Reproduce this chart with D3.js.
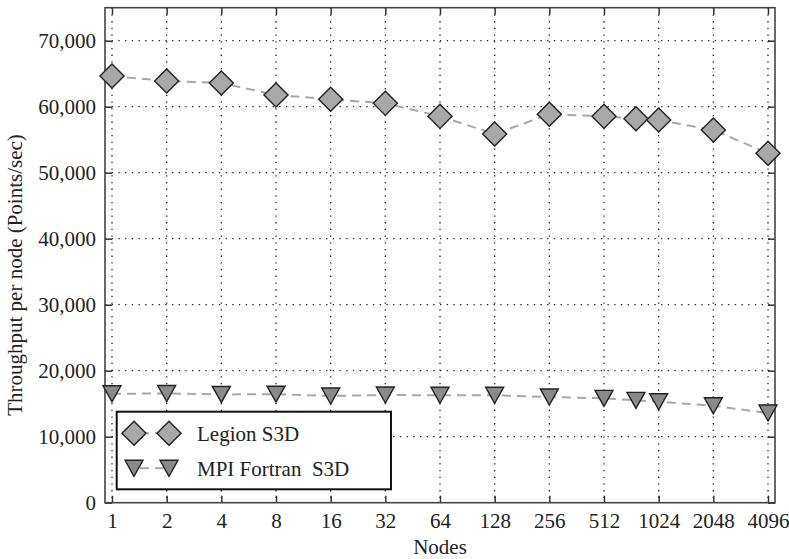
<!DOCTYPE html>
<html>
<head>
<meta charset="utf-8">
<script src="https://cdn.jsdelivr.net/npm/d3@7"></script>
<style>
  body { margin: 0; background: #fff; }
  text { font-family: "Liberation Serif", "DejaVu Serif", serif; fill: #222; }
</style>
</head>
<body>
<script>
const nodes = [1, 2, 4, 8, 16, 32, 64, 128, 256, 512, 768, 1024, 2048, 4096];
const legionS3D = [64650, 63890, 63590, 61770, 61120, 60510, 58540, 55860, 58850, 58540, 58180, 57980, 56470, 52940];
const mpiFortranS3D = [16500, 16550, 16400, 16440, 16170, 16320, 16270, 16270, 16010, 15810, 15510, 15300, 14680, 13590];
const xTicks = [1, 2, 4, 8, 16, 32, 64, 128, 256, 512, 1024, 2048, 4096];
const yTicks = [0, 10000, 20000, 30000, 40000, 50000, 60000, 70000];

const width = 789;
const height = 559;
const plot = { left: 105, right: 775, top: 7.7, bottom: 502.7 };
const fontSize = '21px';

const x = d3.scaleLog().base(2)
  .domain([Math.pow(2, -0.128), Math.pow(2, 12.128)])
  .range([plot.left, plot.right]);
const y = d3.scaleLinear()
  .domain([0, 75000])
  .range([plot.bottom, plot.top]);

const svg = d3.select('body').append('svg')
  .attr('width', width)
  .attr('height', height);

// grid
const grid = svg.append('g').attr('id', 'grid');
grid.selectAll('line.gx')
  .data(xTicks)
  .join('line')
  .attr('class', 'gx')
  .attr('x1', d => x(d)).attr('x2', d => x(d))
  .attr('y1', plot.top).attr('y2', plot.bottom)
  .attr('stroke', '#222')
  .attr('stroke-width', 1.3)
  .attr('stroke-dasharray', '1.3,5.4');
grid.selectAll('line.gy')
  .data(yTicks.filter(d => d > 0))
  .join('line')
  .attr('class', 'gy')
  .attr('x1', plot.left).attr('x2', plot.right)
  .attr('y1', d => y(d)).attr('y2', d => y(d))
  .attr('stroke', '#222')
  .attr('stroke-width', 1.3)
  .attr('stroke-dasharray', '1.3,5.4');

// axes
const xAxis = svg.append('g')
  .attr('transform', `translate(0,${plot.bottom})`)
  .call(d3.axisBottom(x).tickValues(xTicks).tickFormat(d3.format('d')).tickSizeInner(-7).tickSizeOuter(0).tickPadding(10));
const xAxisTop = svg.append('g')
  .attr('transform', `translate(0,${plot.top})`)
  .call(d3.axisTop(x).tickValues(xTicks).tickFormat('').tickSizeInner(-7).tickSizeOuter(0));
const yAxis = svg.append('g')
  .attr('transform', `translate(${plot.left},0)`)
  .call(d3.axisLeft(y).tickValues(yTicks).tickFormat(d3.format(',')).tickSizeInner(-7).tickSizeOuter(0).tickPadding(9));
const yAxisRight = svg.append('g')
  .attr('transform', `translate(${plot.right},0)`)
  .call(d3.axisRight(y).tickValues(yTicks).tickFormat('').tickSizeInner(-7).tickSizeOuter(0));

[xAxis, xAxisTop, yAxis, yAxisRight].forEach(g => {
  g.attr('font-size', null).attr('font-family', null);
  g.select('.domain').remove();
  g.selectAll('.tick line').attr('stroke', '#333').attr('stroke-width', 1.5);
  g.selectAll('.tick text')
    .style('font-size', fontSize)
    .attr('fill', '#222');
});

// frame
svg.append('rect')
  .attr('x', plot.left).attr('y', plot.top)
  .attr('width', plot.right - plot.left)
  .attr('height', plot.bottom - plot.top)
  .attr('fill', 'none')
  .attr('stroke', '#444')
  .attr('stroke-width', 1.6);

const diamond = d3.symbol().type(d3.symbolSquare).size(290);
const triangle = 'M0,8 L-9,-8 L9,-8 Z';

const series = [
  { name: 'Legion S3D', values: legionS3D, fill: '#a8a8a8', marker: 'diamond' },
  { name: 'MPI Fortran  S3D', values: mpiFortranS3D, fill: '#8a8a8a', marker: 'triangle' }
];

const line = d3.line()
  .x(d => x(d[0]))
  .y(d => y(d[1]));

const drawMarker = (sel, s) => {
  if (s.marker === 'diamond') {
    sel.append('path')
      .attr('d', diamond)
      .attr('transform', 'rotate(45)')
      .attr('fill', s.fill)
      .attr('stroke', '#222')
      .attr('stroke-width', 1.4);
  } else {
    sel.append('path')
      .attr('d', triangle)
      .attr('fill', s.fill)
      .attr('stroke', '#222')
      .attr('stroke-width', 1.4);
  }
};

series.forEach(s => {
  const pts = nodes.map((n, i) => [n, s.values[i]]);
  svg.append('path')
    .datum(pts)
    .attr('d', line)
    .attr('fill', 'none')
    .attr('stroke', '#a8a8a8')
    .attr('stroke-width', 2)
    .attr('stroke-dasharray', '9,6');
  svg.append('g')
    .selectAll('g')
    .data(pts)
    .join('g')
    .attr('transform', d => `translate(${x(d[0])},${y(d[1])})`)
    .each(function () { drawMarker(d3.select(this), s); });
});

// legend
const legend = svg.append('g').attr('id', 'legend');
legend.append('rect')
  .attr('x', 116.7).attr('y', 411.7)
  .attr('width', 274.3).attr('height', 77.6)
  .attr('fill', '#fff')
  .attr('stroke', '#111')
  .attr('stroke-width', 2);
series.forEach((s, i) => {
  const ly = 433.3 + i * 35;
  legend.append('line')
    .attr('x1', 134).attr('x2', 169)
    .attr('y1', ly).attr('y2', ly)
    .attr('stroke', '#a8a8a8')
    .attr('stroke-width', 2)
    .attr('stroke-dasharray', '9,6')
    .attr('stroke-dashoffset', -6);
  [134, 169].forEach(lx => {
    const g = legend.append('g').attr('transform', `translate(${lx},${ly})`);
    drawMarker(g, s);
  });
  legend.append('text')
    .attr('x', 197).attr('y', ly)
    .attr('dy', '0.35em')
    .style('font-size', fontSize)
    .style('white-space', 'pre')
    .text(s.name);
});

// axis titles
svg.append('text')
  .attr('transform', `translate(22,275) rotate(-90)`)
  .attr('text-anchor', 'middle')
  .style('font-size', fontSize)
  .text('Throughput per node (Points/sec)');
svg.append('text')
  .attr('x', 440).attr('y', 554)
  .attr('text-anchor', 'middle')
  .style('font-size', fontSize)
  .text('Nodes');
</script>
</body>
</html>
